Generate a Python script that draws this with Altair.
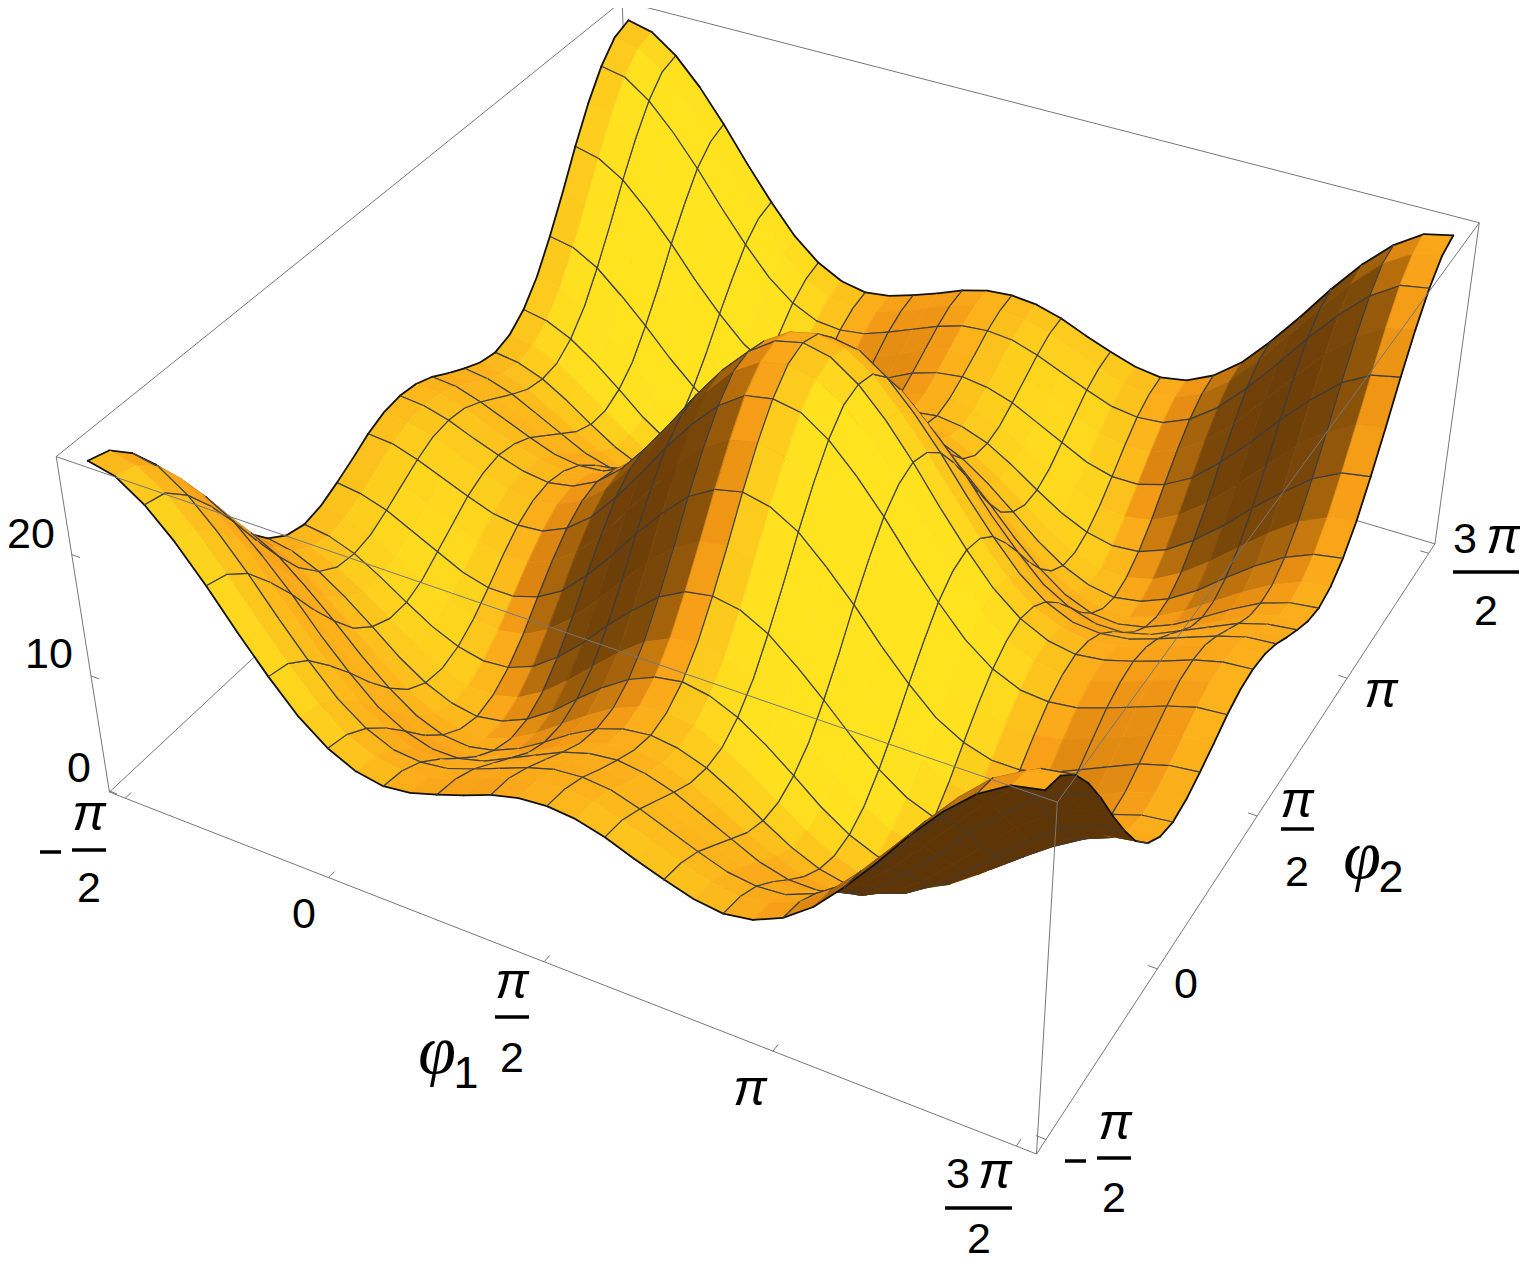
import math
import numpy as np
import pandas as pd
import altair as alt

# Heights on a 33 x 33 grid (phi1 rows, phi2 columns); every second line is a mesh line
R0 = [27.0,26.5,25.0,22.8,20.1,17.1,14.3,11.8,10.0,8.9,8.5,8.8,9.5,10.3,11.2,11.8,12.0,11.8,11.2,10.3,9.5,8.8,8.5,8.9,10.0,11.8,14.3,17.1,20.1,22.8,25.0,26.5,27.0]
R1 = [26.5,26.0,24.6,22.3,19.6,16.7,13.9,11.4,9.6,8.6,8.2,8.5,9.2,10.1,11.0,11.6,11.8,11.6,11.0,10.1,9.2,8.5,8.2,8.6,9.6,11.4,13.9,16.7,19.6,22.3,24.6,26.0,26.5]
R2 = [25.0,24.6,23.1,20.9,18.3,15.4,12.7,10.3,8.6,7.6,7.4,7.7,8.5,9.4,10.3,11.0,11.2,11.0,10.3,9.4,8.5,7.7,7.4,7.6,8.6,10.3,12.7,15.4,18.3,20.9,23.1,24.6,25.0]
R3 = [22.8,22.3,20.9,18.8,16.2,13.5,10.8,8.6,7.1,6.2,6.1,6.5,7.4,8.4,9.4,10.1,10.3,10.1,9.4,8.4,7.4,6.5,6.1,6.2,7.1,8.6,10.8,13.5,16.2,18.8,20.9,22.3,22.8]
R4 = [20.1,19.6,18.3,16.2,13.8,11.1,8.7,6.6,5.3,4.6,4.6,5.2,6.3,7.4,8.5,9.2,9.5,9.2,8.5,7.4,6.3,5.2,4.6,4.6,5.3,6.6,8.7,11.1,13.8,16.2,18.3,19.6,20.1]
R5 = [17.1,16.7,15.4,13.5,11.1,8.7,6.4,4.6,3.4,3.0,3.2,4.1,5.2,6.5,7.7,8.5,8.8,8.5,7.7,6.5,5.2,4.1,3.2,3.0,3.4,4.6,6.4,8.7,11.1,13.5,15.4,16.7,17.1]
R6 = [14.3,13.9,12.7,10.8,8.7,6.4,4.4,2.8,1.9,1.7,2.2,3.2,4.6,6.1,7.4,8.2,8.5,8.2,7.4,6.1,4.6,3.2,2.2,1.7,1.9,2.8,4.4,6.4,8.7,10.8,12.7,13.9,14.3]
R7 = [11.8,11.4,10.3,8.6,6.6,4.6,2.8,1.5,0.9,0.9,1.7,3.0,4.6,6.2,7.6,8.6,8.9,8.6,7.6,6.2,4.6,3.0,1.7,0.9,0.9,1.5,2.8,4.6,6.6,8.6,10.3,11.4,11.8]
R8 = [10.0,9.6,8.6,7.1,5.3,3.4,1.9,0.9,0.5,0.9,1.9,3.4,5.3,7.1,8.6,9.6,10.0,9.6,8.6,7.1,5.3,3.4,1.9,0.9,0.5,0.9,1.9,3.4,5.3,7.1,8.6,9.6,10.0]
R9 = [8.9,8.6,7.6,6.2,4.6,3.0,1.7,0.9,0.9,1.5,2.8,4.6,6.6,8.6,10.3,11.4,11.8,11.4,10.3,8.6,6.6,4.6,2.8,1.5,0.9,0.9,1.7,3.0,4.6,6.2,7.6,8.6,8.9]
R10 = [8.5,8.2,7.4,6.1,4.6,3.2,2.2,1.7,1.9,2.8,4.4,6.4,8.7,10.8,12.7,13.9,14.3,13.9,12.7,10.8,8.7,6.4,4.4,2.8,1.9,1.7,2.2,3.2,4.6,6.1,7.4,8.2,8.5]
R11 = [8.8,8.5,7.7,6.5,5.2,4.1,3.2,3.0,3.4,4.6,6.4,8.7,11.1,13.5,15.4,16.7,17.1,16.7,15.4,13.5,11.1,8.7,6.4,4.6,3.4,3.0,3.2,4.1,5.2,6.5,7.7,8.5,8.8]
R12 = [9.5,9.2,8.5,7.4,6.3,5.2,4.6,4.6,5.3,6.6,8.7,11.1,13.8,16.2,18.3,19.6,20.1,19.6,18.3,16.2,13.8,11.1,8.7,6.6,5.3,4.6,4.6,5.2,6.3,7.4,8.5,9.2,9.5]
R13 = [10.3,10.1,9.4,8.4,7.4,6.5,6.1,6.2,7.1,8.6,10.8,13.5,16.2,18.8,20.9,22.3,22.8,22.3,20.9,18.8,16.2,13.5,10.8,8.6,7.1,6.2,6.1,6.5,7.4,8.4,9.4,10.1,10.3]
R14 = [11.2,11.0,10.3,9.4,8.5,7.7,7.4,7.6,8.6,10.3,12.7,15.4,18.3,20.9,23.1,24.6,25.0,24.6,23.1,20.9,18.3,15.4,12.7,10.3,8.6,7.6,7.4,7.7,8.5,9.4,10.3,11.0,11.2]
R15 = [11.8,11.6,11.0,10.1,9.2,8.5,8.2,8.6,9.6,11.4,13.9,16.7,19.6,22.3,24.6,26.0,26.5,26.0,24.6,22.3,19.6,16.7,13.9,11.4,9.6,8.6,8.2,8.5,9.2,10.1,11.0,11.6,11.8]
R16 = [12.0,11.8,11.2,10.3,9.5,8.8,8.5,8.9,10.0,11.8,14.3,17.1,20.1,22.8,25.0,26.5,27.0,26.5,25.0,22.8,20.1,17.1,14.3,11.8,10.0,8.9,8.5,8.8,9.5,10.3,11.2,11.8,12.0]
Z_ROWS = [R0,R1,R2,R3,R4,R5,R6,R7,R8,R9,R10,R11,R12,R13,R14,R15,R16,R15,R14,R13,R12,R11,R10,R9,R8,R7,R6,R5,R4,R3,R2,R1,R0]
Z_TICKS = [0, 10, 20]
PHI_TICKS = [-0.5, 0.0, 0.5, 1.0, 1.5]     # in units of pi

# view: where the eight corners of the plot box appear
X_LO, X_HI = -0.54, 1.54      # phi range of the box, units of pi
Z_LO, Z_HI = -0.1, 27.7
VIEW = [
 ("A",  X_LO, X_LO, Z_LO, 108.5, 791), ("B",  X_HI, X_LO, Z_LO, 1037, 1154),
 ("C",  X_HI, X_HI, Z_LO, 1435, 543),  ("D",  X_LO, X_HI, Z_LO, 633, 306),
 ("A1", X_LO, X_LO, Z_HI, 57, 457),    ("B1", X_HI, X_LO, Z_HI, 1057, 803),
 ("C1", X_HI, X_HI, Z_HI, 1479, 223),  ("D1", X_LO, X_HI, Z_HI, 622, 0),
]

rows = []
for _, X, Y, Zv, px, py in VIEW:
    rows.append([X, Y, Zv, 1, 0, 0, 0, 0, -px*X, -px*Y, -px*Zv, -px])
    rows.append([0, 0, 0, 0, X, Y, Zv, 1, -py*X, -py*Y, -py*Zv, -py])
P = np.linalg.svd(np.array(rows, float))[2][-1].reshape(3, 4)
if P[2] @ np.array([X_LO, X_LO, Z_LO, 1]) < 0:
    P = -P

def proj(a, b, c):
    h = P @ np.array([a, b, c, 1.0])
    return h[0]/h[2], h[1]/h[2], h[2]

OFF = 8
CORNER = {k: (x, y, z) for k, x, y, z, _, _ in VIEW}

# shading ramp
RAMP_B = [-0.2, -0.1, 0.0, 0.1, 0.2, 0.3, 0.4, 0.5, 0.6, 0.7, 0.78, 0.95]
RAMP_C = ["#5e3507", "#6e3f08", "#7d4a08", "#b06a0c", "#df8811", "#f39a16", "#fba81a", "#fcb61b", "#fcc31c", "#fdd21d", "#ffe11f", "#ffe720"]
RGB = np.array([[int(c[k:k+2], 16) for k in (1, 3, 5)] for c in RAMP_C], float)

def ramp(b):
    return "#%02x%02x%02x" % tuple(int(round(float(np.interp(b, RAMP_B, RGB[:, k])))) for k in range(3))

Z = np.array(Z_ROWS)
N = Z.shape[0]
phi = [-0.5 + 2.0*i/(N-1) for i in range(N)]
DPHI = (phi[1]-phi[0])*math.pi
items = []
MESH, EDGE = "#3d3d3d", "#111111"
MW, EW = 1.2, 1.8
Q, L1, L3 = 18.0, 0.6, 0.5
for i in range(N-1):
    for j in range(N-1):
        nodes = [(i, j), (i+1, j), (i+1, j+1), (i, j+1)]
        pts = [proj(phi[a], phi[b], Z[a, b]) for a, b in nodes]
        xy = [[p[0]-OFF, p[1]-OFF] for p in pts]
        area = sum(xy[k][0]*xy[(k+1) % 4][1]-xy[(k+1) % 4][0]*xy[k][1] for k in range(4))
        d1 = ((Z[i+1, j]+Z[i+1, j+1])-(Z[i, j]+Z[i, j+1]))/2/DPHI
        d2 = ((Z[i, j+1]+Z[i+1, j+1])-(Z[i, j]+Z[i+1, j]))/2/DPHI
        L2 = -0.25 - 0.15*min(1.0, max(-d1/4, 0.0)) + 0.55*min(1.0, max(d1/4, 0.0))
        B = (-d1*L1 - d2*L2 + Q*L3)/math.sqrt(d1*d1+d2*d2+Q*Q)
        under = area > 0
        col = "#5e3507" if under else ramp(B)
        depth = float(np.mean([p[2] for p in pts]))
        ring = xy + [xy[0]]
        if under:
            ring = ring[::-1]
        items.append((depth, 0, {"type": "Feature", "f": col, "s": col, "sw": 0.7, "properties": {},
                                 "geometry": {"type": "Polygon", "coordinates": [ring]}}))
        segs = []
        # edges of the cell: 0-1 lies on phi2 = j, 1-2 on phi1 = i+1, 2-3 on phi2 = j+1, 3-0 on phi1 = i
        for (m, n, line, idx) in [(0, 1, "j", j), (1, 2, "i", i+1), (2, 3, "j", j+1), (3, 0, "i", i)]:
            if idx == 0 or idx == N-1:
                segs.append((xy[m], xy[n], EDGE, EW))
            elif idx % 2 == 0:
                segs.append((xy[m], xy[n], "#4a3a28" if under else MESH, MW))
        for s0, s1, c, w in segs:
            items.append((depth, 1, {"type": "Feature", "f": c, "s": c, "sw": w, "properties": {},
                                     "geometry": {"type": "LineString", "coordinates": [s0, s1]}}))
items.sort(key=lambda q: (-q[0], q[1]))
features = [q[2] for q in items]

surface = alt.Chart(alt.Data(values=features)).mark_geoshape(strokeCap="round").encode(
    fill=alt.Fill("f:N", scale=None, legend=None),
    stroke=alt.Stroke("s:N", scale=None, legend=None),
    strokeWidth=alt.StrokeWidth("sw:Q", scale=None, legend=None),
).project(type="identity", scale=1, translate=[0, 0])

X_SCALE = alt.X("x:Q", scale=alt.Scale(domain=[OFF, 1520], nice=False, zero=False), axis=None)
Y_SCALE = alt.Y("y:Q", scale=alt.Scale(domain=[1263, OFF], nice=False, zero=False), axis=None)

def seg_rows(name, a, b):
    pa, pb = proj(*a), proj(*b)
    return [{"g": name, "o": 0, "x": pa[0], "y": pa[1]}, {"g": name, "o": 1, "x": pb[0], "y": pb[1]}]

def edges(pairs):
    out = []
    for a, b in pairs:
        out += seg_rows(a+b, CORNER[a], CORNER[b])
    return out

def lines(data, color="#777777", w=1.0):
    return alt.Chart(pd.DataFrame(data)).mark_line(color=color, strokeWidth=w, clip=True).encode(
        x=X_SCALE, y=Y_SCALE, detail="g:N", order="o:Q")

back = lines(edges([("A", "D"), ("D", "C"), ("D", "D1"), ("A1", "D1"), ("D1", "C1")]))
front_rows = edges([("A", "B"), ("B", "C"), ("A", "A1"), ("B", "B1"), ("C", "C1"), ("A1", "B1"), ("B1", "C1")])
TICK = 0.02
for p in PHI_TICKS:
    front_rows += seg_rows(f"t1{p}", (p, X_LO, Z_LO), (p, X_LO+TICK, Z_LO))
    front_rows += seg_rows(f"t2{p}", (X_HI, p, Z_LO), (X_HI-TICK, p, Z_LO))
for v in Z_TICKS:
    front_rows += seg_rows(f"tz{v}", (X_LO, X_LO, v), (X_LO+TICK, X_LO, v))
front = lines(front_rows)

# tick labels: (text, centre x, baseline y, size, font, style)
SANS, SERIF = "Liberation Sans", "Liberation Serif"
LABELS = [
 ("20", 31, 548, 43, SANS, "normal"), ("10", 49, 668, 43, SANS, "normal"), ("0", 79, 782, 43, SANS, "normal"),
 ("π", 89, 830, 50, SANS, "italic"), ("2", 89, 902, 43, SANS, "normal"),
 ("0", 304, 928, 43, SANS, "normal"),
 ("π", 512, 998, 50, SANS, "italic"), ("2", 512, 1072, 43, SANS, "normal"),
 ("π", 750, 1105, 50, SANS, "italic"),
 ("3", 958, 1188, 43, SANS, "normal"), ("π", 995, 1188, 50, SANS, "italic"), ("2", 979, 1253, 43, SANS, "normal"),
 ("π", 1115, 1139, 50, SANS, "italic"), ("2", 1114, 1212, 43, SANS, "normal"),
 ("0", 1186, 998, 43, SANS, "normal"),
 ("π", 1297, 817, 50, SANS, "italic"), ("2", 1297, 886, 43, SANS, "normal"),
 ("π", 1381, 707, 50, SANS, "italic"),
 ("3", 1465, 553, 43, SANS, "normal"), ("π", 1503, 553, 50, SANS, "italic"), ("2", 1486, 625, 43, SANS, "normal"),
 ("φ", 437, 1073, 68, SERIF, "italic"), ("1", 466, 1088, 45, SANS, "normal"),
 ("φ", 1362, 878, 68, SERIF, "italic"), ("2", 1391, 892, 45, SANS, "normal"),
]
lab = pd.DataFrame(LABELS, columns=["text", "x", "y", "size", "font", "style"])
texts = []
for (font, style, size), g in lab.groupby(["font", "style", "size"]):
    texts.append(alt.Chart(g).mark_text(font=font, fontStyle=style, fontSize=size, color="black",
                                        baseline="alphabetic", align="center").encode(
        x=X_SCALE, y=Y_SCALE, text="text:N"))

BARS = [("b1", 72, 106, 850), ("m1", 40, 61, 852), ("b2", 495, 529, 1017), ("b3", 945, 1012, 1208),
        ("b4", 1097, 1131, 1158), ("m2", 1065, 1086, 1161), ("b5", 1281, 1314, 829), ("b6", 1453, 1519, 572)]
bar_rows = []
for name, x0, x1, y in BARS:
    bar_rows += [{"g": name, "o": 0, "x": x0, "y": y}, {"g": name, "o": 1, "x": x1, "y": y}]
bars = lines(bar_rows, color="black", w=3.5)

chart = alt.layer(back, surface, front, bars, *texts).properties(
    width=1512, height=1255, padding=0, background="white",
    autosize=alt.AutoSizeParams(type="none"),
).configure_view(stroke=None)

chart.save("out.html", embed_options={"renderer": "svg", "actions": False})
